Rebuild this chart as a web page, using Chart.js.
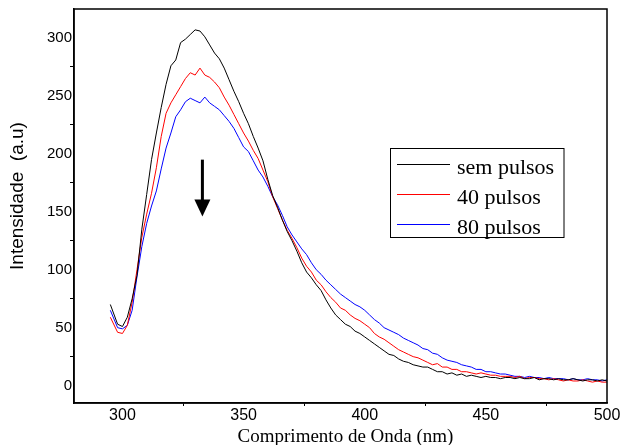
<!DOCTYPE html>
<html lang="pt-br">
<head>
  <meta charset="UTF-8" />
  <title>Intensidade x Comprimento de Onda</title>
  <style>
    html, body {
      margin: 0;
      padding: 0;
      background: #fff;
    }
    #grafico {
      display: block;
    }
  </style>
</head>
<body>
  <canvas id="grafico" width="622" height="445"></canvas>

  <script src="https://cdn.jsdelivr.net/npm/chart.js"></script>
  <script>
    // comprimento de onda (nm)
    const comprimentos = [
      295, 298, 300, 302, 304, 306, 308, 310, 312, 314,
      316, 318, 320, 322, 324, 326, 328, 330, 332, 334,
      336, 338, 340, 342, 344, 346, 348, 350, 352, 354,
      356, 358, 360, 362, 364, 366, 368, 370, 372, 374,
      376, 378, 380, 382, 384, 386, 388, 390, 392, 394,
      396, 398, 400, 402, 404, 406, 408, 410, 412, 414,
      416, 418, 420, 422, 424, 426, 428, 430, 432, 434,
      436, 438, 440, 442, 444, 446, 448, 450, 452, 454,
      456, 458, 460, 462, 464, 466, 468, 470, 472, 474,
      476, 478, 480, 482, 484, 486, 488, 490, 492, 494,
      496, 498, 500
    ];

    const semPulsos = [
      70, 53, 51, 59, 75, 95, 135, 165, 195, 218,
      240, 260, 276, 281, 296, 299, 303, 307, 306, 301,
      294, 287, 282, 274, 264, 254, 245, 235, 226, 215,
      205, 194, 178, 164, 154, 143, 133, 125, 116, 106,
      98, 93, 87, 82, 74, 67, 61, 57, 53, 51,
      47, 45, 42, 39, 36, 33, 30, 27, 26, 23,
      21, 20, 18, 17, 16, 16, 14, 12, 12, 10,
      11, 9, 10, 8, 9, 8, 7, 8, 7, 7,
      6, 7, 7, 6, 7, 6, 6, 7, 5, 6,
      6, 5, 6, 5, 5, 6, 5, 4, 5, 5,
      4, 5, 4
    ];

    const pulsos40 = [
      59, 46, 45, 52, 72, 100, 128, 148, 166, 188,
      215, 235, 244, 251, 258, 265, 270, 268, 274, 268,
      266, 262, 257, 249, 242, 234, 226, 218, 211, 203,
      196, 186, 176, 163, 153, 143, 134, 127, 119, 110,
      103, 98, 91, 87, 81, 76, 72, 67, 65, 61,
      58, 56, 53, 50, 45, 42, 40, 37, 34, 31,
      29, 27, 25, 24, 22, 20, 18, 19, 16, 16,
      14, 14, 12, 12, 11, 10, 11, 10, 9, 9,
      8, 8, 8, 7, 8, 6, 7, 7, 6, 6,
      5, 6, 5, 4, 5, 4, 4, 5, 4, 3,
      4, 3, 3
    ];

    const pulsos80 = [
      65, 50, 49, 52, 65, 94, 120, 140, 155, 168,
      187, 205, 218, 232, 238, 245, 248, 246, 244, 249,
      244, 241, 238, 233, 228, 222, 214, 206, 202, 194,
      186, 180, 172, 163, 156, 147, 137, 130, 124, 118,
      113, 106, 100, 96, 91, 87, 83, 79, 76, 73,
      70, 68, 65, 61, 57, 54, 50, 48, 46, 44,
      41, 39, 37, 35, 32, 31, 28, 27, 24, 22,
      21, 20, 18, 17, 16, 14, 14, 12, 12, 11,
      10, 10, 9, 8, 8, 7, 8, 7, 7, 6,
      7, 6, 6, 6, 5, 6, 5, 5, 6, 5,
      5, 4, 5
    ];

    const series = ['sem pulsos', '40 pulsos', '80 pulsos'];
    const cores = ['#000000', '#ff0000', '#0000ff'];

    // marcas dos eixos (as de 25 em 25 ficam sem rótulo)
    const marcasX = [300, 325, 350, 375, 400, 425, 450, 475, 500];
    const rotulosX = [300, 350, 400, 450, 500];
    const marcasY = [0, 25, 50, 75, 100, 125, 150, 175, 200, 225, 250, 275, 300];
    const rotulosY = [0, 50, 100, 150, 200, 250, 300];

    // seta indicando a queda de intensidade (em unidades dos eixos)
    const seta = { x: 333, de: 195, ate: 146 };

    const pares = vals => comprimentos.map((c, i) => ({ x: c, y: vals[i] }));

    const extras = {
      id: 'extras',
      afterDraw(chart) {
        const { ctx, chartArea: a, scales: { x, y } } = chart;
        ctx.save();

        // moldura
        ctx.strokeStyle = '#000';
        ctx.lineWidth = 1.5;
        ctx.strokeRect(a.left, a.top, a.right - a.left, a.bottom - a.top);

        // seta
        const sx = x.getPixelForValue(seta.x);
        const y0 = y.getPixelForValue(seta.de);
        const y1 = y.getPixelForValue(seta.ate);
        ctx.fillStyle = '#000';
        ctx.lineWidth = 3;
        ctx.beginPath();
        ctx.moveTo(sx, y0);
        ctx.lineTo(sx, y1 - 14);
        ctx.stroke();
        ctx.beginPath();
        ctx.moveTo(sx - 8, y1 - 17);
        ctx.lineTo(sx + 8, y1 - 17);
        ctx.lineTo(sx, y1);
        ctx.closePath();
        ctx.fill();

        // legenda
        ctx.lineWidth = 1;
        ctx.fillStyle = '#fff';
        ctx.fillRect(390.5, 148.5, 173.5, 89);
        ctx.strokeStyle = '#000';
        ctx.strokeRect(390.5, 148.5, 173.5, 89);
        ctx.font = '22px "Liberation Serif", "Times New Roman", serif';
        ctx.textAlign = 'left';
        ctx.textBaseline = 'alphabetic';
        chart.data.datasets.forEach((ds, i) => {
          const ly = 164.5 + i * 30;
          ctx.strokeStyle = ds.borderColor;
          ctx.beginPath();
          ctx.moveTo(397, ly);
          ctx.lineTo(450, ly);
          ctx.stroke();
          ctx.fillStyle = '#000';
          ctx.fillText(ds.label, 457, ly + 9);
        });

        // títulos dos eixos
        ctx.fillStyle = '#000';
        ctx.font = '19px "Liberation Serif", "Times New Roman", serif';
        ctx.textAlign = 'center';
        ctx.fillText('Comprimento de Onda (nm)', (a.left + a.right) / 2 + 5, 441.5);

        ctx.translate(18, (a.top + a.bottom) / 2 - 10);
        ctx.rotate(-Math.PI / 2);
        ctx.font = '19px "Liberation Sans", Arial, sans-serif';
        ctx.textBaseline = 'middle';
        ctx.fillText('Intensidade  (a.u)', 0, 0);

        ctx.restore();
      }
    };

    Chart.defaults.font.family = '"Liberation Sans", Arial, sans-serif';
    Chart.defaults.color = '#000';

    const corMarca = lista => c => (c.tick && lista.includes(c.tick.value)) ? 'rgba(0,0,0,0)' : '#000';

    new Chart(document.getElementById('grafico'), {
      type: 'line',
      data: {
        datasets: series.map((nome, i) => ({
          label: nome,
          data: pares([semPulsos, pulsos40, pulsos80][i]),
          borderColor: cores[i],
          borderWidth: 1,
          pointRadius: 0,
          tension: 0,
          fill: false
        }))
      },
      options: {
        responsive: false,
        animation: false,
        devicePixelRatio: 1,
        layout: { padding: { top: 9, right: 15, bottom: 0, left: 0 } },
        plugins: {
          legend: { display: false },
          tooltip: { enabled: false }
        },
        scales: {
          x: {
            type: 'linear',
            min: 280,
            max: 500,
            afterBuildTicks: s => { s.ticks = marcasX.map(v => ({ value: v })); },
            afterFit: s => { s.height = 42; },
            ticks: {
              autoSkip: false,
              maxRotation: 0,
              padding: 0,
              font: { size: 16 },
              callback: v => rotulosX.includes(v) ? String(v) : ''
            },
            grid: {
              drawOnChartArea: false,
              tickLength: 3,
              tickWidth: 1,
              tickColor: corMarca(rotulosX)
            },
            border: { color: '#000', width: 1.5 }
          },
          y: {
            min: -15,
            max: 325,
            afterBuildTicks: s => { s.ticks = marcasY.map(v => ({ value: v })); },
            afterFit: s => { s.width = 74; },
            ticks: {
              autoSkip: false,
              padding: -2,
              font: { size: 15 },
              callback: v => rotulosY.includes(v) ? String(v) : ''
            },
            grid: {
              drawOnChartArea: false,
              tickLength: 4,
              tickWidth: 1,
              tickColor: corMarca(rotulosY)
            },
            border: { color: '#000', width: 1.5 }
          }
        }
      },
      plugins: [extras]
    });
  </script>
</body>
</html>
